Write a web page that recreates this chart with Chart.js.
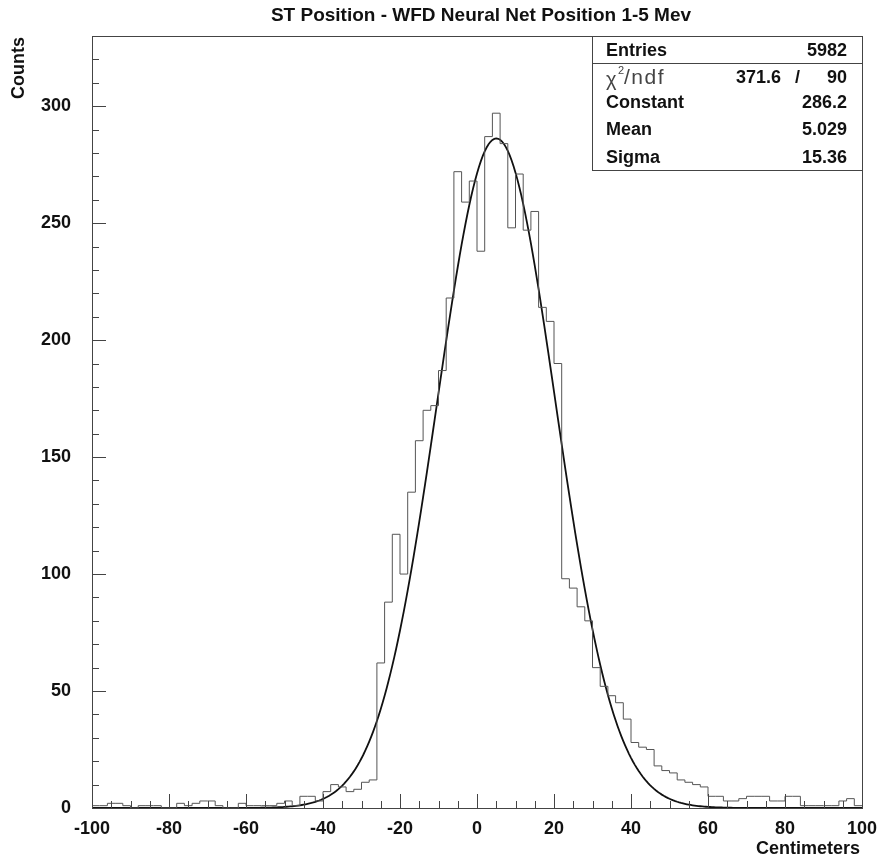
<!DOCTYPE html>
<html>
<head>
<meta charset="utf-8">
<script src="https://cdn.jsdelivr.net/npm/chart.js@4.4.1/dist/chart.umd.min.js"></script>
<style>
  html, body { margin: 0; padding: 0; background: #fff; }
  #wrap { width: 878px; height: 863px; }
</style>
</head>
<body>
<div id="wrap"><canvas id="histChart" width="878" height="863"></canvas></div>
<script>
// histogram binning (100 bins of 2 cm)
const binLow = -100;
const binHigh = 100;
const binWidth = 2;

// counts per bin, left to right
const counts = [
    1, 1, 2, 2, 1, 0, 1, 1, 1, 0,
    0, 2, 1, 2, 3, 3, 1, 0, 0, 2,
    1, 1, 1, 1, 2, 3, 1, 5, 5, 3,
    7, 10, 9, 7, 8, 11, 12, 62, 88, 117,
    100, 135, 157, 170, 172, 187, 218, 272, 259, 268,
    238, 287, 297, 284, 248, 271, 247, 255, 214, 208,
    190, 98, 94, 86, 80, 60, 52, 48, 45, 38,
    28, 26, 25, 18, 16, 15, 12, 11, 10, 9,
    5, 5, 3, 3, 4, 5, 5, 5, 3, 3,
    5, 5, 1, 1, 1, 1, 1, 3, 4, 1
];

// gaussian fit parameters from the stats box
const fitConstant = 286.2;
const fitMean = 5.029;
const fitSigma = 15.36;

const statsNames = ['Entries', 'Constant', 'Mean', 'Sigma'];
const statsValues = ['5982', '286.2', '5.029', '15.36'];
const chi2Value = '371.6';
const ndfValue = '90';

const titleText = 'ST Position - WFD Neural Net Position 1-5 Mev';
const xTitle = 'Centimeters';
const yTitle = 'Counts';

const FONT = '"Liberation Sans", Arial, Helvetica, sans-serif';

// step outline points at bin left edges + closing point
const histPoints = counts.map(function(c, i) {
    return { x: binLow + i * binWidth, y: c };
});
histPoints.push({ x: binHigh, y: counts[counts.length - 1] });

const fitPoints = [];
for (let x = binLow; x <= binHigh; x += 0.5) {
    const z = (x - fitMean) / fitSigma;
    fitPoints.push({ x: x, y: fitConstant * Math.exp(-0.5 * z * z) });
}

const decorPlugin = {
    id: 'rootDecor',
    afterDraw: function(chart) {
        const ctx = chart.ctx;
        const a = chart.chartArea;
        const xs = chart.scales.x;
        const ys = chart.scales.y;
        ctx.save();

        // ticks pointing inward
        ctx.strokeStyle = '#444';
        ctx.lineWidth = 1;
        ctx.beginPath();
        for (let v = binLow; v <= binHigh; v += 5) {
            const px = Math.round(xs.getPixelForValue(v)) + 0.5;
            const len = (v % 20 === 0) ? 14 : 7;
            ctx.moveTo(px, a.bottom);
            ctx.lineTo(px, a.bottom - len);
        }
        for (let v = 0; v <= 330; v += 10) {
            const py = Math.round(ys.getPixelForValue(v)) + 0.5;
            const len = (v % 50 === 0) ? 14 : 7;
            ctx.moveTo(a.left, py);
            ctx.lineTo(a.left + len, py);
        }
        ctx.stroke();

        // frame
        ctx.strokeStyle = '#444';
        ctx.strokeRect(Math.round(a.left) + 0.5, Math.round(a.top) + 0.5,
            Math.round(a.right - a.left), Math.round(a.bottom - a.top));

        // title
        ctx.fillStyle = '#111';
        ctx.font = 'bold 19px ' + FONT;
        ctx.textAlign = 'center';
        ctx.textBaseline = 'middle';
        ctx.fillText(titleText, 481, 16);

        // axis titles
        ctx.font = 'bold 18px ' + FONT;
        ctx.textAlign = 'right';
        ctx.fillText(xTitle, a.right - 2, 849);
        ctx.save();
        ctx.translate(19, a.top + 1);
        ctx.rotate(-Math.PI / 2);
        ctx.textAlign = 'right';
        ctx.fillText(yTitle, 0, 0);
        ctx.restore();

        // stats box
        const bx = 592, by = Math.round(a.top) + 0.5, bw = Math.round(a.right) - 592, bh = 134;
        ctx.fillStyle = '#fff';
        ctx.fillRect(bx, by, bw, bh);
        ctx.strokeStyle = '#444';
        ctx.strokeRect(bx + 0.5, by, bw, bh);
        ctx.beginPath();
        ctx.moveTo(bx, 63.5);
        ctx.lineTo(bx + bw, 63.5);
        ctx.stroke();

        const lx = 606, rx = 847;
        const rows = [51.5, 78, 103.5, 130.5, 158];
        ctx.fillStyle = '#111';
        ctx.font = 'bold 18px ' + FONT;
        ctx.textAlign = 'left';
        ctx.fillText(statsNames[0], lx, rows[0]);
        ctx.textAlign = 'right';
        ctx.fillText(statsValues[0], rx, rows[0]);
        for (let i = 1; i < statsNames.length; i++) {
            ctx.textAlign = 'left';
            ctx.fillText(statsNames[i], lx, rows[i + 1]);
            ctx.textAlign = 'right';
            ctx.fillText(statsValues[i], rx, rows[i + 1]);
        }
        // chi2 / ndf row
        ctx.textAlign = 'right';
        ctx.fillText(ndfValue, rx, rows[1]);
        ctx.fillText('/', 800, rows[1]);
        ctx.fillText(chi2Value, 781, rows[1]);
        ctx.textAlign = 'left';
        ctx.fillStyle = '#444';
        ctx.font = '20px ' + FONT;
        ctx.fillText('\u03C7', lx, rows[1] + 2);
        ctx.font = '11px ' + FONT;
        ctx.fillText('2', lx + 12, rows[1] - 7);
        ctx.font = '21px ' + FONT;
        ctx.letterSpacing = '1.5px';
        ctx.fillText('/ndf', lx + 18, rows[1]);
        ctx.letterSpacing = '0px';

        ctx.restore();
    }
};

new Chart(document.getElementById('histChart'), {
    type: 'line',
    data: {
        datasets: [
            {
                data: histPoints,
                stepped: 'before',
                borderColor: '#555',
                borderWidth: 1,
                pointRadius: 0,
                fill: false
            },
            {
                data: fitPoints,
                borderColor: '#111',
                borderWidth: 1.8,
                pointRadius: 0,
                tension: 0,
                fill: false
            }
        ]
    },
    options: {
        responsive: false,
        animation: false,
        events: [],
        layout: { padding: { top: 36, right: 16, left: 0, bottom: 0 } },
        plugins: {
            legend: { display: false },
            tooltip: { enabled: false },
            title: { display: false }
        },
        scales: {
            x: {
                type: 'linear',
                min: binLow,
                max: binHigh,
                grid: { display: false, drawTicks: false },
                border: { display: false },
                ticks: {
                    stepSize: 20,
                    includeBounds: false,
                    maxRotation: 0,
                    padding: 10,
                    color: '#111',
                    font: { family: FONT, size: 18, weight: 'bold' }
                },
                afterFit: function(scale) {
                    scale.height = 55;
                    scale.paddingLeft = 0;
                    scale.paddingRight = 0;
                }
            },
            y: {
                min: 0,
                max: 330,
                grid: { display: false, drawTicks: false },
                border: { display: false },
                ticks: {
                    stepSize: 50,
                    includeBounds: false,
                    padding: 21,
                    color: '#111',
                    font: { family: FONT, size: 18, weight: 'bold' }
                },
                afterFit: function(scale) {
                    scale.width = 92;
                    scale.paddingTop = 0;
                    scale.paddingBottom = 0;
                }
            }
        }
    },
    plugins: [decorPlugin]
});
</script>
</body>
</html>
